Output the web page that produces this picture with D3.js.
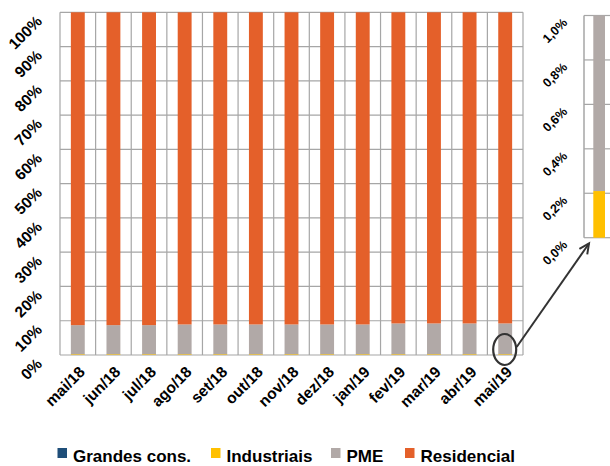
<!DOCTYPE html>
<html><head><meta charset="utf-8">
<script src="https://cdn.jsdelivr.net/npm/d3@7"></script>
<style>
html,body{margin:0;padding:0;background:#fff;}
svg{display:block;font-family:"Liberation Sans",Arial,sans-serif;}
</style></head>
<body>
<svg id="c" width="610" height="466"></svg>
<script>
const categories = ["mai/18","jun/18","jul/18","ago/18","set/18","out/18","nov/18","dez/18","jan/19","fev/19","mar/19","abr/19","mai/19"];
const grandes = [0,0,0,0,0,0,0,0,0,0,0,0,0];
const industriais = [0.21,0.21,0.21,0.21,0.21,0.21,0.21,0.21,0.21,0.21,0.21,0.21,0.21];
const pme = [8.5,8.5,8.5,8.7,8.7,8.7,8.7,8.7,8.7,9.0,9.0,9.0,9.0];
const residencial = categories.map((c,i)=>100 - grandes[i] - industriais[i] - pme[i]);
const seriesNames = ["Grandes cons.","Industriais","PME","Residencial"];
const seriesColors = ["#1F4E79","#FFC000","#B1A9A7","#E4602A"];
const yTicks = [0,10,20,30,40,50,60,70,80,90,100];
const insetTicks = [0,0.2,0.4,0.6,0.8,1.0];

const svg = d3.select("#c");
const gridColor = "#A6A6A6";

// Main chart
const x = d3.scaleBand().domain(categories).range([60,523]).paddingInner(0.61).paddingOuter(0.305);
const xg = d3.scaleBand().domain(categories).range([60,523]).padding(0);
const y = d3.scaleLinear().domain([0,100]).range([355,12.3]);

const rows = categories.map((c,i)=>({cat:c, "Grandes cons.":grandes[i], "Industriais":industriais[i], "PME":pme[i], "Residencial":residencial[i]}));
const stack = d3.stack().keys(seriesNames)(rows);

// grid
const g = svg.append("g");
g.selectAll("line.h").data(yTicks).join("line")
  .attr("x1",60).attr("x2",523).attr("y1",d=>y(d)).attr("y2",d=>y(d))
  .attr("stroke",gridColor).attr("stroke-width",1.2);
g.selectAll("line.v").data(categories.concat(["__end"])).join("line")
  .attr("x1",(d,i)=> i<categories.length ? xg(d) : xg.range()[1])
  .attr("x2",(d,i)=> i<categories.length ? xg(d) : xg.range()[1])
  .attr("y1",y(0)).attr("y2",y(100))
  .attr("stroke",gridColor).attr("stroke-width",1.2);

// bars
svg.append("g").selectAll("g").data(stack).join("g")
  .attr("fill",(d,i)=>seriesColors[i])
  .selectAll("rect").data(d=>d).join("rect")
  .attr("x",d=>x(d.data.cat)).attr("width",x.bandwidth())
  .attr("y",d=>y(d[1])).attr("height",d=>Math.max(0,y(d[0])-y(d[1])));

// y labels
svg.append("g").selectAll("text").data(yTicks).join("text")
  .attr("transform",d=>`translate(43,${y(d)+10}) rotate(-45)`)
  .attr("text-anchor","end").attr("font-weight","bold").attr("font-size",15.5)
  .attr("fill","#000").text(d=>d+"%");

// x labels
svg.append("g").selectAll("text").data(categories).join("text")
  .attr("transform",d=>`translate(${x(d)+x.bandwidth()/2+8},${373}) rotate(-45)`)
  .attr("text-anchor","end").attr("font-weight","bold").attr("font-size",15.5)
  .attr("fill","#000").text(d=>d);

// Inset
const last = rows[rows.length-1];
const yi = d3.scaleLinear().domain([0,1.0]).range([237.7,15.5]);
const gi = svg.append("g");
gi.selectAll("line").data(insetTicks).join("line")
  .attr("x1",584).attr("x2",610).attr("y1",d=>yi(d)).attr("y2",d=>yi(d))
  .attr("stroke",gridColor).attr("stroke-width",1.2);
gi.append("line").attr("x1",584).attr("x2",584).attr("y1",yi(0)).attr("y2",yi(1.0))
  .attr("stroke",gridColor).attr("stroke-width",1.5);
const insetStack = stack.map(s=>s[s.length-1]);
gi.selectAll("rect").data(insetStack).join("rect")
  .attr("fill",(d,i)=>seriesColors[i])
  .attr("x",593.3).attr("width",11.7)
  .attr("y",d=>yi(Math.min(d[1],1.0))).attr("height",d=>Math.max(0,yi(Math.min(d[0],1.0))-yi(Math.min(d[1],1.0))));
gi.selectAll("text").data(insetTicks).join("text")
  .attr("transform",d=>`translate(568,${yi(d)+8}) rotate(-45)`)
  .attr("text-anchor","end").attr("font-weight","bold").attr("font-size",12.5)
  .attr("fill","#000").text(d=>d.toFixed(1).replace(".",",")+"%");

// callout ellipse and arrow
const cx = x(last.cat)+x.bandwidth()/2 - 0.5;
svg.append("ellipse").attr("cx",cx).attr("cy",y(0)-5.5).attr("rx",11.5).attr("ry",15.5)
  .attr("fill","none").attr("stroke","#333").attr("stroke-width",2.2);
const ax1 = cx+12, ay1 = y(0)-8, ax2 = 589, ay2 = 243.5;
svg.append("line").attr("x1",ax1).attr("y1",ay1).attr("x2",ax2).attr("y2",ay2)
  .attr("stroke","#333").attr("stroke-width",2);
const ang = Math.atan2(ay2-ay1, ax2-ax1);
const hl = 11, ha = 0.45;
svg.append("path")
  .attr("d",`M${ax2-hl*Math.cos(ang-ha)},${ay2-hl*Math.sin(ang-ha)} L${ax2},${ay2} L${ax2-hl*Math.cos(ang+ha)},${ay2-hl*Math.sin(ang+ha)}`)
  .attr("fill","none").attr("stroke","#333").attr("stroke-width",2);

// legend
const legendX = [57.5, 211, 331, 405];
const lg = svg.append("g");
seriesNames.forEach((n,i)=>{
  lg.append("rect").attr("x",legendX[i]).attr("y",448).attr("width",9.5).attr("height",10).attr("fill",seriesColors[i]);
  lg.append("text").attr("x",legendX[i]+15.5).attr("y",462).attr("font-weight","bold").attr("font-size",17)
    .attr("fill","#000").text(n);
});
</script>
</body></html>
